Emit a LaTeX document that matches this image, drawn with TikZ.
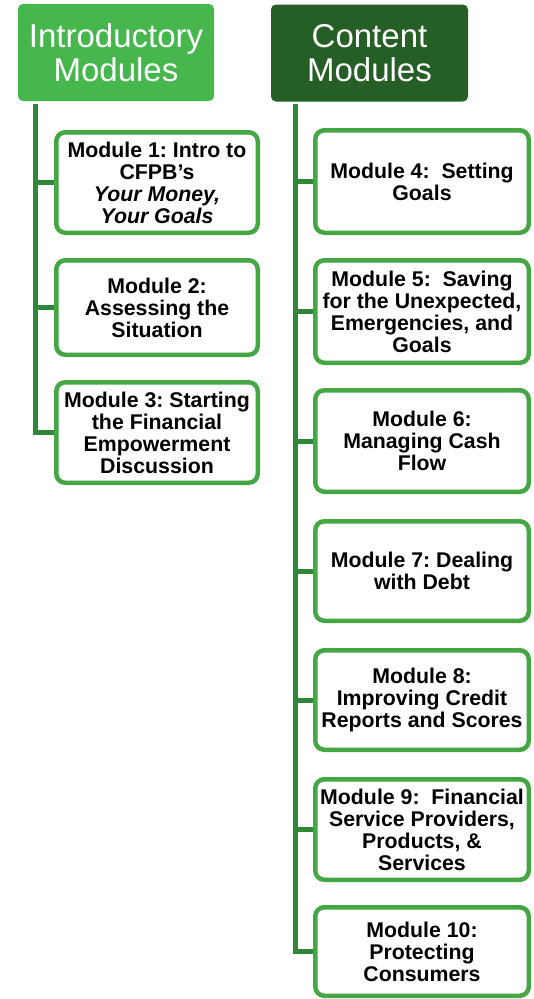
\documentclass[tikz,border=0pt]{standalone}
\usepackage{fontspec}
\setmainfont{Liberation Sans}
\frenchspacing
\definecolor{introfill}{HTML}{45B74C}
\definecolor{contentfill}{HTML}{255F26}
\definecolor{boxborder}{HTML}{44A744}
\definecolor{trunkcol}{HTML}{2F8737}
\tikzset{
  header/.style={fill=#1, rounded corners=5pt, inner sep=0pt, text=white, align=center,
    font=\fontsize{33}{34.5}\selectfont},
  modbox/.style={draw=boxborder, line width=4.5pt, rounded corners=9pt, fill=white,
    inner sep=0pt, align=center, text=black, font=\bfseries\fontsize{21.3}{22}\selectfont},
  trunk/.style={draw=trunkcol, line width=5pt}
}
\begin{document}
\begin{tikzpicture}[x=1pt,y=-1pt]
\useasboundingbox (0,0) rectangle (534,999);
% headers
\node[header=introfill, minimum width=196pt, minimum height=97pt] (intro) at (116,52.5) {Introductory\\Modules};
\node[header=contentfill, minimum width=197pt, minimum height=97pt] (content) at (369.5,53) {Content\\Modules};
% left modules
\node[modbox, minimum width=201.5pt, minimum height=100.5pt] (m1) at (157,182.5) {Module 1: Intro to\\CFPB’s\\\textit{Your Money,}\\\textit{Your Goals}};
\node[modbox, minimum width=201.5pt, minimum height=94.5pt] (m2) at (157,307.5) {Module 2:\\Assessing the\\Situation};
\node[modbox, minimum width=201.5pt, minimum height=100.5pt] (m3) at (157,432.5) {Module 3: Starting\\the Financial\\Empowerment\\Discussion};
% right modules
\node[modbox, minimum width=213.5pt, minimum height=102.5pt] (m4) at (422,181.5) {Module 4:\ \ Setting\\Goals};
\node[modbox, minimum width=213.5pt, minimum height=102.5pt] (m5) at (422,311.5) {Module 5:\ \ Saving\\for the Unexpected,\\Emergencies, and\\Goals};
\node[modbox, minimum width=213.5pt, minimum height=101.5pt] (m6) at (422,441) {Module 6:\\Managing Cash\\Flow};
\node[modbox, minimum width=213.5pt, minimum height=99.5pt] (m7) at (422,571) {Module 7: Dealing\\with Debt};
\node[modbox, minimum width=213.5pt, minimum height=99.5pt] (m8) at (422,700) {Module 8:\\Improving Credit\\Reports and Scores};
\node[modbox, minimum width=213.5pt, minimum height=100.5pt] (m9) at (422,829.5) {Module 9:\ \ Financial\\Service Providers,\\Products, \&\\Services};
\node[modbox, minimum width=213.5pt, minimum height=88.5pt] (m10) at (422,951.5) {Module 10:\\Protecting\\Consumers};
% trunks
\coordinate (lt) at (35,104);
\coordinate (rt) at (295.5,104);
\draw[trunk] (lt) |- (m3.west);
\draw[trunk] (lt |- m1.west) -- (m1.west);
\draw[trunk] (lt |- m2.west) -- (m2.west);
\draw[trunk] (rt) |- (m10.west);
\foreach \m in {m4,m5,m6,m7,m8,m9}{
  \draw[trunk] (rt |- \m.west) -- (\m.west);
}
\end{tikzpicture}
\end{document}
